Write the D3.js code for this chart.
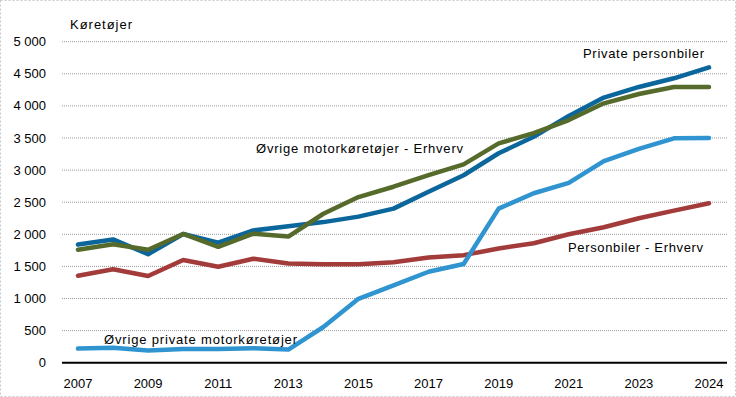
<!DOCTYPE html>
<html><head><meta charset="utf-8">
<script src="https://cdn.jsdelivr.net/npm/d3@7"></script>
<style>
html,body{margin:0;padding:0;background:#fff;}
svg text{font-family:"Liberation Sans","DejaVu Sans",sans-serif;fill:#000;}
</style></head>
<body>
<svg id="chart" width="736" height="397"></svg>
<script>
// 19 observation points; axis labels shown on every other point
const categories = ["2007","2008","2009","2010","2011","2012","2013","2014","2015","2016","2017","2018","2019","2020","2021","2022","2023","2024a","2024"];
const tickIndex = [0,2,4,6,8,10,12,14,16,18];
const tickLabels = ["2007","2009","2011","2013","2015","2017","2019","2021","2023","2024"];
const yTicks = [0,500,1000,1500,2000,2500,3000,3500,4000,4500,5000];

const privatePersonbiler = [1840,1920,1690,2005,1870,2060,2125,2190,2275,2400,2664,2920,3262,3520,3844,4130,4295,4430,4600];
const ovrigeErhverv      = [1760,1845,1760,2005,1805,2010,1965,2320,2580,2741,2920,3090,3417,3575,3780,4040,4185,4295,4295];
const personbilerErhverv = [1355,1455,1350,1600,1495,1620,1545,1533,1533,1565,1640,1675,1780,1860,2000,2110,2250,2368,2483];
const ovrigePrivate      = [220,234,190,213,213,225,205,556,995,1205,1417,1537,2400,2639,2800,3140,3330,3495,3500];

const series = [
  {name:"Personbiler - Erhverv", values:personbilerErhverv, color:"#a33b3b"},
  {name:"Øvrige private motorkøretøjer", values:ovrigePrivate, color:"#2f94cf"},
  {name:"Private personbiler", values:privatePersonbiler, color:"#0b669c"},
  {name:"Øvrige motorkøretøjer - Erhverv", values:ovrigeErhverv, color:"#566b2b"}
];

(function(){
const svg = d3.select("#chart");
const W = 736, H = 397;
const pLeft = 62, pRight = 727, pTop = 41.7, pBottom = 362.7;

svg.append("rect").attr("x",0.5).attr("y",0.5).attr("width",W-1).attr("height",H-1)
  .attr("fill","none").attr("stroke","#c8c8c8").attr("stroke-dasharray","2,2");

const x = d3.scalePoint().domain(d3.range(categories.length)).range([78, 709]);
const y = d3.scaleLinear().domain([0,5000]).range([pBottom, pTop]);

// gridlines
svg.append("g").selectAll("line").data(yTicks.filter(d=>d>0)).join("line")
  .attr("x1",pLeft).attr("x2",pRight)
  .attr("y1",d=>y(d)).attr("y2",d=>y(d))
  .attr("stroke","#9a9a9a").attr("stroke-width",1).attr("stroke-dasharray","1,1");

// y axis labels
const fmt = d => d3.format(",")(d).replace(/,/g," ");
svg.append("g").selectAll("text").data(yTicks).join("text")
  .attr("x",46).attr("y",d=>y(d)).attr("dy","0.35em")
  .attr("text-anchor","end").attr("font-size",13).text(fmt);

// lines
const line = d3.line().x((d,i)=>x(i)).y(d=>y(d));
svg.append("g").selectAll("path").data(series).join("path")
  .attr("d",d=>line(d.values)).attr("fill","none")
  .attr("stroke",d=>d.color).attr("stroke-width",4.5)
  .attr("stroke-linejoin","round").attr("stroke-linecap","round");

// x axis line
svg.append("line").attr("x1",pLeft).attr("x2",pRight).attr("y1",pBottom).attr("y2",pBottom)
  .attr("stroke","#000").attr("stroke-width",2);

// x tick labels
svg.append("g").selectAll("text").data(tickIndex).join("text")
  .attr("x",d=>x(d)).attr("y",383).attr("dy","0.35em")
  .attr("text-anchor","middle").attr("font-size",13)
  .text((d,i)=>tickLabels[i]);

// unit label
svg.append("text").attr("x",70).attr("y",24).attr("dy","0.35em")
  .attr("font-size",13).attr("textLength",62).attr("lengthAdjust","spacing").text("Køretøjer");

// series labels
const labels = [
  {text:"Private personbiler", x:583, y:53, w:121},
  {text:"Øvrige motorkøretøjer - Erhverv", x:256, y:148, w:207},
  {text:"Personbiler - Erhverv", x:568, y:247, w:135},
  {text:"Øvrige private motorkøretøjer", x:104, y:339, w:193}
];
svg.append("g").selectAll("text").data(labels).join("text")
  .attr("x",d=>d.x).attr("y",d=>d.y).attr("dy","0.35em")
  .attr("font-size",13).attr("textLength",d=>d.w).attr("lengthAdjust","spacing")
  .text(d=>d.text);
})();
</script>
</body></html>
